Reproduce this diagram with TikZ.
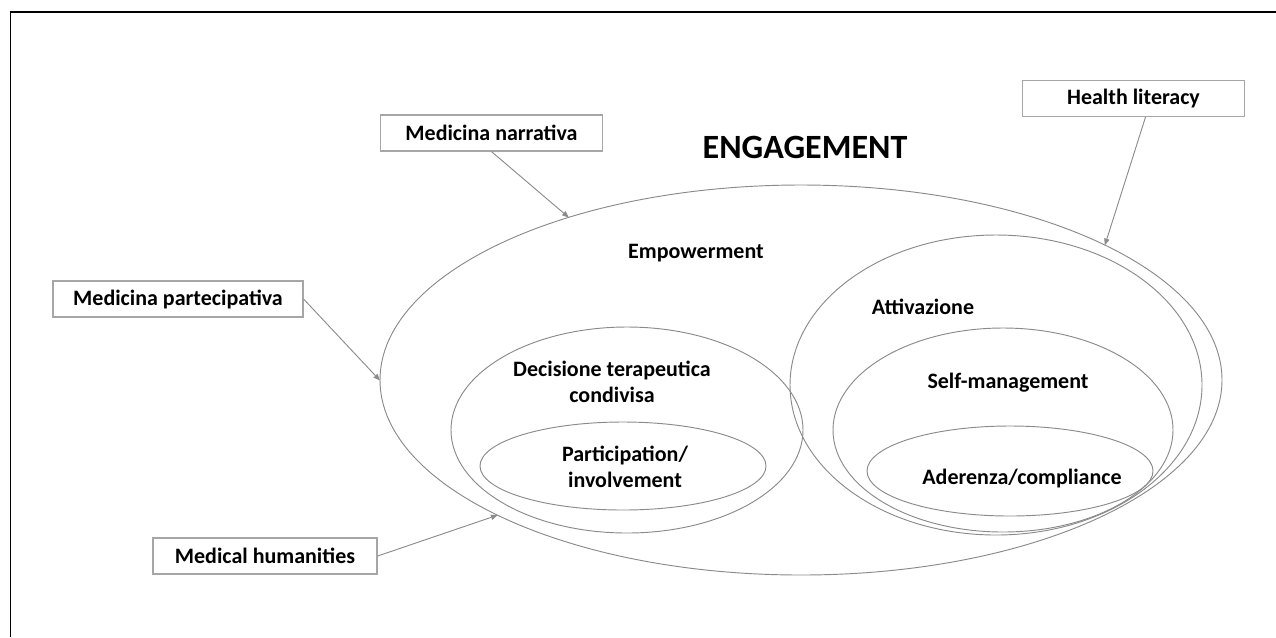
\documentclass[tikz,border=0pt]{standalone}
\usepackage{fontspec}
\setmainfont{Carlito}
\usetikzlibrary{shapes.geometric,arrows.meta}
\definecolor{elline}{HTML}{8A8A8A}
\definecolor{boxline}{HTML}{A6A6A6}
\definecolor{arrline}{HTML}{8C8C8C}
\tikzset{
  lbl/.style={font=\bfseries\fontsize{16.5}{19.5}\selectfont, align=center, inner sep=0pt},
  srcbox/.style={draw=boxline, line width=0.9pt, fill=white, minimum height=27pt, inner sep=0pt, font=\bfseries\fontsize{16.5}{19}\selectfont},
  ell/.style={ellipse, draw=elline, line width=0.7pt, inner sep=0pt},
  feed/.style={draw=arrline, line width=0.7pt, -{Triangle[length=5pt,width=4pt]}, shorten >=-0.5pt},
}
\begin{document}
\begin{tikzpicture}[x=0.75pt,y=-0.75pt]
\useasboundingbox (0,0) rectangle (1276,637);
% frame
\draw[line width=1.2pt] (10.5,637) -- (10.5,12) -- (1276,12);
% ellipses
\node[ell, minimum width=631.5pt, minimum height=292.5pt] (emp) at (801,380) {};
\node[ell, minimum width=264pt, minimum height=154.5pt] (dec) at (627,430) {};
\node[ell, minimum width=214.5pt, minimum height=66pt] (partic) at (623,466) {};
\node[ell, minimum width=309pt, minimum height=225pt] (att) at (996,385) {};
\node[ell, minimum width=255pt, minimum height=153pt] (selfm) at (1003,430) {};
\node[ell, minimum width=214.5pt, minimum height=67.5pt] (ader) at (1010,471) {};
% labels
\node[lbl, font=\bfseries\fontsize{25.5}{30}\selectfont] (eng) at (805,147) {ENGAGEMENT};
\node[lbl] (tEmp) at (696,253) {Empowerment};
\node[lbl] (tAtt) at (923,307) {Attivazione};
\node[lbl] (tSelf) at (1008,383) {Self-management};
\node[lbl] (tAder) at (1022,478) {Aderenza/compliance};
\node[lbl] (tDec) at (612,382) {Decisione terapeutica\\condivisa};
\node[lbl] (tPart) at (625,467) {Participation/\\involvement};
% source boxes
\node[srcbox, minimum width=167pt] (narr) at (491.5,133) {Medicina narrativa};
\node[srcbox, minimum width=187.5pt] (partc) at (178,299) {Medicina partecipativa};
\node[srcbox, minimum width=168pt] (hum) at (265,556) {Medical humanities};
\node[srcbox, minimum width=167pt] (hl) at (1133.5,98.5) {Health literacy};
% connectors
\draw[feed] (narr.south) -- (emp.145.6);
\draw[feed] (partc.east) -- (emp.west);
\draw[feed] (hum.east) -- (emp.204.7);
\draw[feed] ([xshift=9pt]hl.south) -- (emp.24.8);
\end{tikzpicture}
\end{document}
